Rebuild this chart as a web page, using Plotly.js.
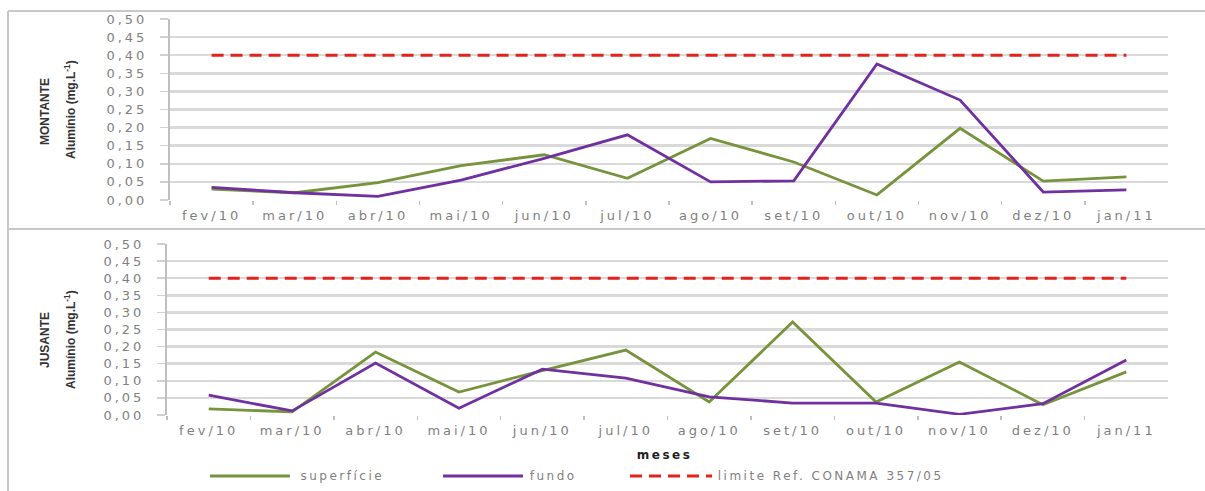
<!DOCTYPE html>
<html><head><meta charset="utf-8">
<script src="https://cdn.plot.ly/plotly-3.0.1.min.js"></script>
<style>
html,body{margin:0;padding:0;background:#fff;}
#chart{width:1205px;height:491px;}
.xtick text,.x2tick text,.ytick text,.y2tick text{letter-spacing:3px;}
g.annotation[data-index="4"] text,g.annotation[data-index="5"] text,g.annotation[data-index="6"] text,g.annotation[data-index="7"] text{letter-spacing:2.5px;}
</style></head><body>
<div id="chart"></div>
<script>
const months = ["fev/10","mar/10","abr/10","mai/10","jun/10","jul/10","ago/10","set/10","out/10","nov/10","dez/10","jan/11"];
const montanteSuperficie = [0.030,0.020,0.048,0.095,0.125,0.060,0.170,0.105,0.014,0.198,0.052,0.064];
const montanteFundo      = [0.035,0.020,0.010,0.055,0.115,0.180,0.050,0.053,0.376,0.276,0.022,0.028];
const jusanteSuperficie  = [0.018,0.009,0.184,0.067,0.130,0.190,0.038,0.272,0.038,0.155,0.030,0.126];
const jusanteFundo       = [0.058,0.012,0.152,0.020,0.134,0.108,0.053,0.035,0.035,0.002,0.033,0.161];
const limiteConama = 0.40;
const seriesNames = ["superfície","fundo","limite Ref. CONAMA 357/05"];
const panelNames = ["MONTANTE","JUSANTE"];
const yTitle = "Alumínio (mg.L<sup>-1</sup>)";
const xTitle = "meses";

const W=1205,H=491;
const px=x=>x/W, py=y=>(H-y)/H;
const green="#77933c", purple="#7030a0", red="#e3221c";
const limitArr = months.map(()=>limiteConama);

function tr(y,xa,ya,name,color,dash){
  return {x:months,y:y,xaxis:xa,yaxis:ya,type:"scatter",mode:"lines",name:name,
    showlegend:false,line:{color:color,width:dash?3:2.8,dash:dash||"solid"},hoverinfo:"skip"};
}
const data=[
  tr(limitArr,"x","y",seriesNames[2],red,"12px,7px"),
  tr(montanteSuperficie,"x","y",seriesNames[0],green),
  tr(montanteFundo,"x","y",seriesNames[1],purple),
  tr(limitArr,"x2","y2",seriesNames[2],red,"12px,7px"),
  tr(jusanteSuperficie,"x2","y2",seriesNames[0],green),
  tr(jusanteFundo,"x2","y2",seriesNames[1],purple)
];
const tickFont={family:"DejaVu Sans, Arial, sans-serif",size:13,color:"#7f7f7f"};
function xax(dom,anchor){return {domain:dom,anchor:anchor,type:"category",range:[-0.5,months.length-0.5],tickson:"boundaries",
  ticks:"outside",ticklen:4,tickcolor:"#bfbfbf",tickwidth:1.5,showgrid:false,ticklabelstandoff:6,
  showline:false,zeroline:false,tickfont:tickFont,fixedrange:true};}
function yax(dom,anchor){return {domain:dom,anchor:anchor,range:[0,0.5],dtick:0.05,tickformat:".2f",
  showgrid:true,gridcolor:"#d9d9d9",gridwidth:2.5,zeroline:false,showline:true,linecolor:"#bfbfbf",linewidth:2,
  ticks:"outside",ticklen:8,tickcolor:"#d0d0d0",tickwidth:1.5,ticklabelstandoff:10,tickfont:tickFont,fixedrange:true};}

const shapes=[
  {type:"line",xref:"paper",yref:"paper",x0:px(8),x1:1,y0:py(11),y1:py(11),line:{color:"#c8c8c8",width:2}},
  {type:"line",xref:"paper",yref:"paper",x0:px(8),x1:px(8),y0:py(11),y1:0,line:{color:"#c8c8c8",width:2}},
  {type:"line",xref:"paper",yref:"paper",x0:px(8),x1:1,y0:py(229),y1:py(229),line:{color:"#c8c8c8",width:2}},
  {type:"line",xref:"paper",yref:"paper",x0:px(210),x1:px(290),y0:py(476),y1:py(476),line:{color:green,width:3}},
  {type:"line",xref:"paper",yref:"paper",x0:px(443),x1:px(523),y0:py(476),y1:py(476),line:{color:purple,width:3}},
  {type:"line",xref:"paper",yref:"paper",x0:px(630),x1:px(712),y0:py(476),y1:py(476),line:{color:red,width:3,dash:"12px,7px"}}
];
const legFont={family:"DejaVu Sans, Arial, sans-serif",size:12,color:"#7f7f7f"};
const titleFont={family:"Liberation Sans Narrow, Arial Narrow, Arial",size:12,color:"#333"};
const LS=2.5;
function ann(text,x,y,opts){return Object.assign({text:text,xref:"paper",yref:"paper",x:px(x),y:py(y),xanchor:"center",yanchor:"middle",showarrow:false},opts);}
function legAnn(text,x){return ann(text,x,476,{xanchor:"left",xshift:LS*text.length/2,font:legFont});}
const annotations=[
  ann("<b>"+panelNames[0]+"</b>",45,112,{textangle:-90,font:titleFont}),
  ann("<b>"+yTitle+"</b>",70,110,{textangle:-90,font:titleFont}),
  ann("<b>"+panelNames[1]+"</b>",45,340,{textangle:-90,font:titleFont}),
  ann("<b>"+yTitle+"</b>",70,340,{textangle:-90,font:titleFont}),
  ann("<b>"+xTitle+"</b>",664,455,{font:{family:"DejaVu Sans, Arial",size:12,color:"#222"}}),
  legAnn(seriesNames[0],298),
  legAnn(seriesNames[1],528),
  legAnn(seriesNames[2],716)
];
const layout={width:W,height:H,margin:{l:0,r:0,t:0,b:0},paper_bgcolor:"#fff",plot_bgcolor:"#fff",
  separators:",.",showlegend:false,
  xaxis:xax([px(170),px(1168)],"y"),
  yaxis:yax([py(200),py(19)],"x"),
  xaxis2:xax([px(167),px(1168)],"y2"),
  yaxis2:yax([py(415),py(244)],"x2"),
  shapes:shapes,annotations:annotations};
Plotly.newPlot("chart",data,layout,{displayModeBar:false,staticPlot:true});
</script></body></html>
